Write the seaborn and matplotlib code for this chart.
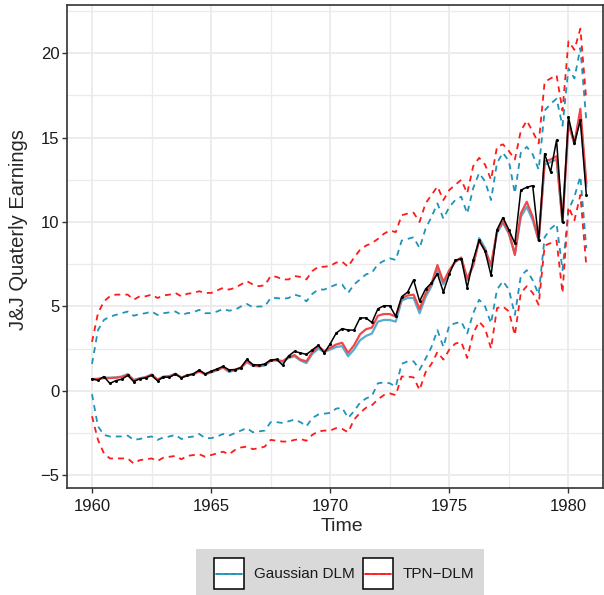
import numpy as np
import pandas as pd
import matplotlib
matplotlib.use("Agg")
import matplotlib.pyplot as plt
from matplotlib.patches import Rectangle
from matplotlib.lines import Line2D
from matplotlib.ticker import MultipleLocator
import seaborn as sns

# Quarterly J&J earnings (1960 Q1 - 1980 Q4)
quarters = 1960 + np.arange(84) / 4

earnings = [
    0.71, 0.63, 0.85, 0.44, 0.61, 0.69, 0.92, 0.55, 0.72, 0.77, 0.92, 0.60,
    0.83, 0.80, 1.00, 0.77, 0.92, 1.00, 1.24, 1.00, 1.16, 1.30, 1.45, 1.25,
    1.26, 1.38, 1.86, 1.56, 1.53, 1.59, 1.83, 1.86, 1.53, 2.07, 2.34, 2.25,
    2.16, 2.43, 2.70, 2.25, 2.79, 3.42, 3.69, 3.60, 3.60, 4.32, 4.32, 4.05,
    4.86, 5.04, 5.04, 4.41, 5.58, 5.85, 6.57, 5.31, 6.03, 6.39, 6.93, 5.85,
    6.93, 7.74, 7.83, 6.12, 7.74, 8.91, 8.28, 6.84, 9.54, 10.26, 9.54, 8.73,
    11.88, 12.06, 12.15, 8.91, 14.04, 12.96, 14.85, 9.99, 16.20, 14.67, 16.02, 11.61,
]

# Gaussian DLM: filtered mean, upper and lower limits
gauss_mean = [
    0.70, 0.72, 0.78, 0.78, 0.80, 0.85, 1.00, 0.65, 0.75, 0.82, 0.98, 0.68,
    0.85, 0.88, 1.02, 0.80, 0.92, 1.00, 1.18, 1.00, 1.10, 1.22, 1.38, 1.12,
    1.22, 1.35, 1.70, 1.48, 1.45, 1.50, 1.78, 1.80, 1.72, 1.95, 2.05, 1.80,
    1.65, 2.20, 2.50, 2.30, 2.45, 2.60, 2.65, 2.05, 2.45, 3.00, 3.25, 3.40,
    4.10, 4.20, 4.20, 4.10, 5.35, 5.50, 5.50, 4.60, 5.55, 6.20, 7.20, 6.30,
    7.10, 7.65, 7.85, 6.55, 7.40, 9.05, 8.45, 7.35, 9.35, 9.95, 9.30, 8.10,
    10.3, 10.9, 10.1, 8.9, 13.4, 13.55, 13.7, 10.0, 15.8, 14.6, 16.3, 12.1,
]
gauss_upper = [
    1.6, 3.6, 4.2, 4.4, 4.5, 4.6, 4.7, 4.45, 4.55, 4.6, 4.7, 4.5,
    4.6, 4.65, 4.7, 4.5, 4.6, 4.65, 4.8, 4.6, 4.6, 4.7, 4.85, 4.75,
    4.8, 5.0, 5.15, 4.95, 5.0, 5.0, 5.5, 5.5, 5.45, 5.5, 5.7, 5.6,
    5.3, 5.75, 6.0, 6.0, 6.15, 6.3, 6.3, 5.8, 6.3, 6.6, 6.9, 7.0,
    7.5, 7.7, 7.85, 7.75, 8.9, 9.0, 9.1, 8.45, 9.6, 10.3, 11.1, 10.2,
    10.9, 11.3, 11.5, 10.5, 12.0, 12.9, 12.4, 11.3, 13.5, 14.1, 13.6, 11.7,
    14.1, 14.45, 14.0, 13.1, 16.6, 17.0, 17.3, 15.7, 19.1, 18.5, 20.3, 16.0,
]
gauss_lower = [
    -0.2, -2.1, -2.6, -2.7, -2.7, -2.7, -2.65, -2.9, -2.85, -2.75, -2.7, -2.9,
    -2.75, -2.7, -2.6, -2.85, -2.75, -2.7, -2.55, -2.8, -2.8, -2.7, -2.55, -2.65,
    -2.5, -2.35, -2.2, -2.45, -2.4, -2.35, -1.85, -1.85, -1.9, -1.8, -1.7, -1.85,
    -2.1, -1.6, -1.4, -1.35, -1.3, -1.05, -1.0, -1.6, -1.2, -0.7, -0.45, -0.3,
    0.45, 0.5, 0.45, 0.25, 1.6, 1.75, 1.75, 1.25, 1.9, 2.6, 3.6, 2.6,
    3.9, 4.0, 4.1, 3.4, 4.6, 5.4, 5.0, 4.0, 6.0, 6.5, 6.0, 4.5,
    6.8, 7.15, 6.55, 5.7, 9.1, 9.6, 9.9, 7.15, 10.7, 11.5, 12.7, 8.45,
]

# TPN-DLM: filtered mean, upper and lower limits
tpn_mean = [
    0.70, 0.70, 0.76, 0.76, 0.78, 0.82, 0.95, 0.62, 0.72, 0.80, 0.94, 0.65,
    0.82, 0.86, 1.00, 0.78, 0.92, 0.98, 1.15, 0.98, 1.12, 1.25, 1.40, 1.18,
    1.25, 1.38, 1.78, 1.52, 1.48, 1.55, 1.82, 1.84, 1.76, 2.00, 2.12, 1.85,
    1.75, 2.30, 2.65, 2.35, 2.55, 2.75, 2.85, 2.25, 2.70, 3.35, 3.65, 3.75,
    4.45, 4.55, 4.55, 4.40, 5.50, 5.65, 5.70, 4.85, 5.75, 6.35, 7.45, 6.45,
    7.15, 7.65, 7.90, 6.65, 7.45, 8.90, 8.30, 7.45, 9.45, 10.05, 9.40, 8.05,
    10.5, 11.2, 10.3, 8.9, 13.6, 13.7, 13.9, 10.0, 15.9, 14.65, 16.7, 12.3,
]
tpn_upper = [
    2.9, 4.6, 5.3, 5.6, 5.7, 5.7, 5.7, 5.4, 5.6, 5.6, 5.7, 5.5,
    5.65, 5.7, 5.8, 5.6, 5.75, 5.8, 5.9, 5.8, 5.8, 5.95, 6.1, 6.0,
    6.1, 6.3, 6.5, 6.3, 6.2, 6.25, 6.8, 6.75, 6.6, 6.6, 6.8, 6.75,
    6.6, 7.1, 7.35, 7.35, 7.4, 7.6, 7.65, 7.35, 7.9, 8.35, 8.6, 8.75,
    9.0, 9.3, 9.5, 9.4, 10.4, 10.5, 10.55, 10.0, 11.1, 11.6, 12.1, 11.3,
    11.9, 12.2, 12.5, 11.7, 13.3, 13.8, 13.4, 12.5, 14.45, 14.6, 14.2, 13.7,
    15.4, 16.0, 15.35, 14.65, 18.3, 18.5, 18.7, 16.6, 20.7, 20.2, 21.45, 17.2,
]
tpn_lower = [
    -1.5, -2.9, -3.7, -4.0, -4.0, -4.0, -4.0, -4.3, -4.1, -4.05, -4.0, -4.15,
    -3.95, -3.9, -3.85, -4.05, -3.85, -3.8, -3.75, -3.9, -3.8, -3.7, -3.6, -3.75,
    -3.5, -3.35, -3.3, -3.45, -3.4, -3.3, -2.9, -2.95, -3.0, -3.0, -2.9, -2.85,
    -2.95, -2.6, -2.4, -2.35, -2.35, -2.2, -2.25, -2.45, -1.7, -1.3, -1.0, -0.85,
    -0.5, -0.25, -0.15, -0.25, 0.85, 0.85, 0.8, 0.05, 1.1, 1.6, 2.3, 1.85,
    2.45, 2.8, 2.9, 1.95, 3.4, 4.1, 3.7, 2.5, 4.9, 5.0, 4.7, 3.3,
    5.8, 6.2, 5.8, 5.1, 8.6, 8.75, 8.9, 5.8, 10.9, 10.1, 11.6, 7.4,
]

df = pd.DataFrame({
    "Time": quarters,
    "Earnings": earnings,
    "g_mean": gauss_mean, "g_up": gauss_upper, "g_lo": gauss_lower,
    "t_mean": tpn_mean, "t_up": tpn_upper, "t_lo": tpn_lower,
})

BLUE = "#1f93b9"
BLUE_MEAN = "#58acd0"
RED = "#ff1a1a"
RED_MEAN = "#f04848"

sns.set_style("whitegrid")
plt.rcParams["font.family"] = ["Liberation Sans", "DejaVu Sans"]

fig = plt.figure(figsize=(6.04, 5.95), dpi=100)
ax = fig.add_axes([67 / 604, 1 - 488 / 595, (603 - 67) / 604, (488 - 5) / 595])

# dashed limits first, then filtered means, then the data on top
dash = (3.3, 2.8)
for col, c in [("g_up", BLUE), ("g_lo", BLUE), ("t_up", RED), ("t_lo", RED)]:
    sns.lineplot(data=df, x="Time", y=col, color=c, lw=1.3, ax=ax)
    ax.lines[-1].set_dashes(dash)
sns.lineplot(data=df, x="Time", y="g_mean", color=BLUE_MEAN, lw=1.6, ax=ax)
sns.lineplot(data=df, x="Time", y="t_mean", color=RED_MEAN, lw=1.6, ax=ax)
sns.lineplot(data=df, x="Time", y="Earnings", color="black", lw=1.1,
             marker="o", markersize=2.2, markeredgewidth=0, ax=ax)

ax.set_xlim(1958.95, 1981.45)
ax.set_ylim(-5.75, 22.85)
ax.xaxis.set_major_locator(MultipleLocator(5))
ax.xaxis.set_minor_locator(MultipleLocator(2.5))
ax.yaxis.set_major_locator(MultipleLocator(5))
ax.yaxis.set_minor_locator(MultipleLocator(2.5))
ax.grid(which="major", color="#ebebeb", lw=1.3)
ax.grid(which="minor", color="#ebebeb", lw=0.9)
ax.set_axisbelow(True)
for s in ax.spines.values():
    s.set_color("#333333")
    s.set_linewidth(1.2)
ax.tick_params(which="major", direction="out", length=3.5, width=1, color="#333333",
               labelsize=12, labelcolor="#1a1a1a", bottom=True, left=True, pad=2)
ax.tick_params(axis="x", which="major", pad=4.5)
ax.tick_params(which="minor", length=0)
ax.set_yticks([-5, 0, 5, 10, 15, 20])
ax.set_yticklabels(["\u22125", "0", "5", "10", "15", "20"])
ax.set_xlabel("Time", fontsize=14)
ax.set_ylabel("J&J Quaterly Earnings", fontsize=14.5)
ax.xaxis.set_label_coords(0.513, -0.062)
ax.yaxis.set_label_coords(-0.072, 0.535)

# legend at the bottom
def fx(x):
    return x / 604

def fy(y):
    return 1 - y / 595

fig.patches.append(Rectangle((fx(196), fy(595)), fx(484) - fx(196), fy(549) - fy(595),
                             transform=fig.transFigure, facecolor="#d9d9d9", edgecolor="none"))
for x0, col, label in [(214, BLUE, "Gaussian DLM"), (363, RED, "TPN\u2212DLM")]:
    fig.patches.append(Rectangle((fx(x0), fy(589)), fx(x0 + 30) - fx(x0), fy(558) - fy(589),
                                 transform=fig.transFigure, facecolor="white",
                                 edgecolor="black", lw=1.1))
    fig.lines.append(Line2D([fx(x0 + 2), fx(x0 + 28)], [fy(573.5), fy(573.5)],
                            transform=fig.transFigure, color=col, lw=1.3))
    fig.lines.append(Line2D([fx(x0 + 2), fx(x0 + 28)], [fy(573.5), fy(573.5)],
                            transform=fig.transFigure, color=col, lw=1.1, dashes=(3, 2)))
    fig.text(fx(x0 + 40), fy(573.5), label, fontsize=11, va="center", ha="left",
             color="#1a1a1a")

fig.savefig("out.png", dpi=100)
